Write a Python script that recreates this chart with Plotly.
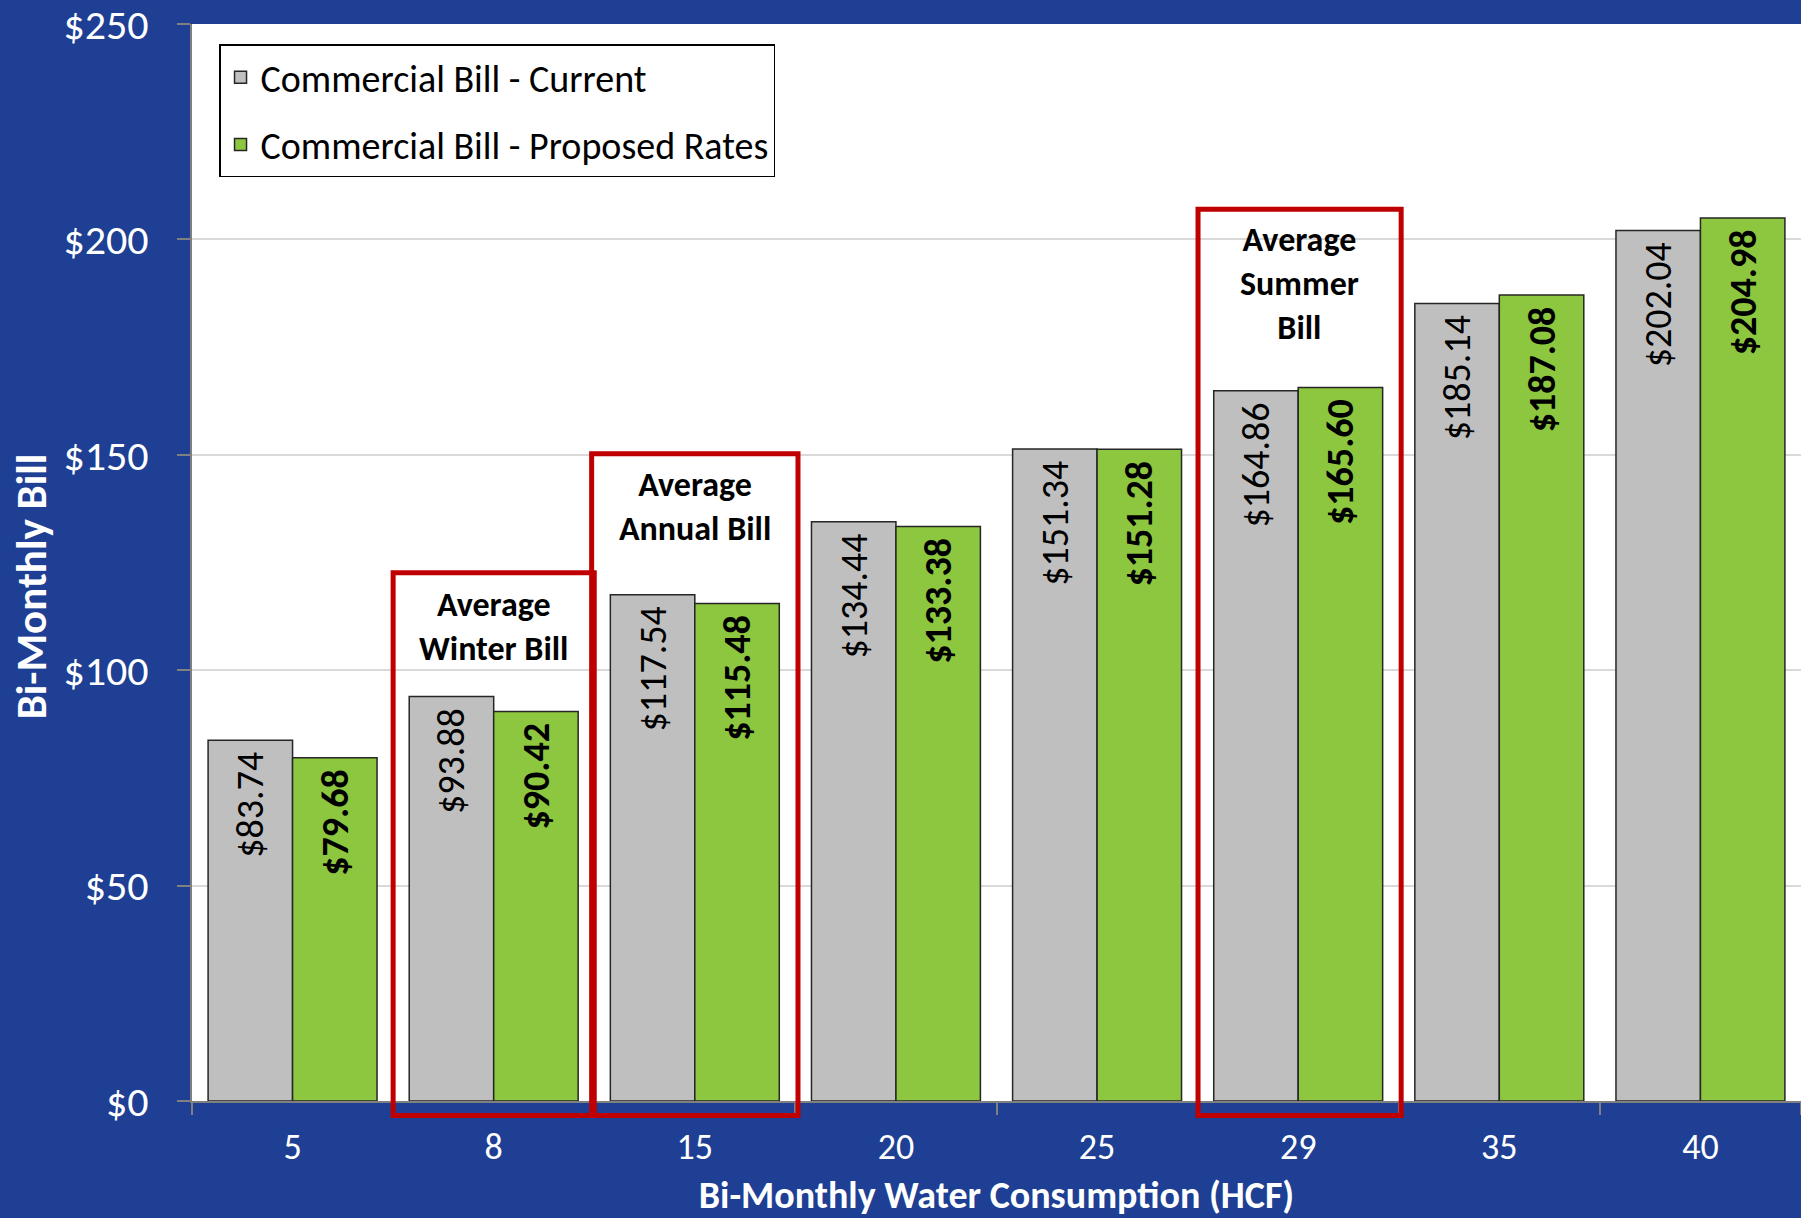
import plotly.graph_objects as go

categories = ["5", "8", "15", "20", "25", "29", "35", "40"]
current_bill = [83.74, 93.88, 117.54, 134.44, 151.34, 164.86, 185.14, 202.04]
proposed_bill = [79.68, 90.42, 115.48, 133.38, 151.28, 165.60, 187.08, 204.98]
series_names = ["Commercial Bill - Current", "Commercial Bill - Proposed Rates"]
y_ticks = [0, 50, 100, 150, 200, 250]
y_tick_labels = ["$0", "$50", "$100", "$150", "$200", "$250"]
callouts = [
    {"text": "Average<br>Winter Bill", "x0": 0.5, "x1": 1.5, "top": 0.4905, "ty": 0.4404},
    {"text": "Average<br>Annual Bill", "x0": 1.487, "x1": 2.513, "top": 0.601, "ty": 0.5517},
    {"text": "Average<br>Summer<br>Bill", "x0": 4.502, "x1": 5.512, "top": 0.828, "ty": 0.7587},
]

FONT = "Carlito, Calibri, Lato, sans-serif"
BLUE = "#1E3F93"
NB = "\u00a0"

fig = go.Figure()
fig.add_trace(go.Bar(
    x=categories, y=current_bill, name=series_names[0], legendgroup="a",
    marker=dict(color="#BFBFBF", line=dict(color="#262626", width=1.5)),
    texttemplate="%{y:$.2f}" + NB, textposition="inside", insidetextanchor="end",
    textangle=-90, textfont=dict(family=FONT, size=38, color="black"),
    hoverinfo="skip",
))
fig.add_trace(go.Bar(
    x=categories, y=proposed_bill, name=series_names[1], legendgroup="b",
    marker=dict(color="#8DC63F", line=dict(color="#262626", width=1.5)),
    texttemplate="<b>%{y:$.2f}</b>" + NB, textposition="inside", insidetextanchor="end",
    textangle=-90, textfont=dict(family=FONT, size=38, color="black"),
    hoverinfo="skip",
))

for c in callouts:
    fig.add_shape(type="rect", xref="x", yref="paper", x0=c["x0"], x1=c["x1"],
                  y0=-0.0135, y1=c["top"], line=dict(color="#C00000", width=5),
                  fillcolor="rgba(0,0,0,0)", layer="above")
    fig.add_annotation(x=(c["x0"] + c["x1"]) / 2, xref="x", y=c["ty"], yref="paper",
                       text="<b>" + c["text"] + "</b>", showarrow=False,
                       font=dict(family=FONT, size=34, color="black"),
                       xanchor="center", yanchor="middle")

# y-axis title (placed as annotation to match its off-centre position)
fig.add_annotation(x=-0.1, xref="paper", y=0.478, yref="paper",
                   text="<b>Bi-Monthly Bill</b>", textangle=-90, showarrow=False,
                   font=dict(family=FONT, size=43, color="white"),
                   xanchor="center", yanchor="middle")

fig.update_layout(
    width=1801, height=1218,
    margin=dict(l=192, r=0, t=24, b=117, autoexpand=False),
    paper_bgcolor=BLUE, plot_bgcolor="white",
    barmode="group", bargap=0.16, bargroupgap=0,
    legend=dict(x=0.0168, y=0.981, xanchor="left", yanchor="top",
                bgcolor="white", bordercolor="black", borderwidth=1.5,
                font=dict(family=FONT, size=38, color="black"),
                tracegroupgap=15, traceorder="grouped"),
    font=dict(family=FONT),
    showlegend=True,
)
fig.update_xaxes(
    type="category", range=[-0.5, 7.5],
    showline=True, linecolor="#808080", linewidth=2,
    ticks="outside", tickson="boundaries", ticklen=12, tickcolor="#808080", tickwidth=1.5,
    tickfont=dict(family=FONT, size=36, color="white"), ticklabelstandoff=13,
    title=dict(text="<b>Bi-Monthly Water Consumption (HCF)</b>",
               font=dict(family=FONT, size=38, color="white"), standoff=20),
    automargin=False,
)
fig.update_yaxes(
    range=[0, 250], tickvals=y_ticks, ticktext=y_tick_labels,
    showgrid=True, gridcolor="#D9D9D9", gridwidth=1.5,
    showline=True, linecolor="#808080", linewidth=2,
    ticks="outside", ticklen=13, tickcolor="#808080", tickwidth=1.5,
    tickfont=dict(family=FONT, size=42, color="white"), ticklabelstandoff=20,
    ticklabeloverflow="allow",
    zeroline=False, automargin=False,
)

fig.write_html("out.html")
